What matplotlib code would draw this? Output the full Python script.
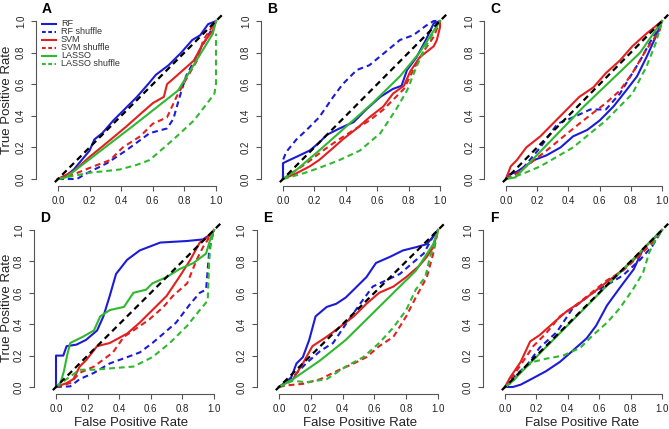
import matplotlib
matplotlib.use("Agg")
import matplotlib.pyplot as plt
from matplotlib.lines import Line2D

plt.rcParams['font.family'] = ['Liberation Sans', 'DejaVu Sans']

W, H = 669, 429

panel_letters = ["A", "B", "C", "D", "E", "F"]
ticks = [0.0, 0.2, 0.4, 0.6, 0.8, 1.0]
tick_labels = ["0.0", "0.2", "0.4", "0.6", "0.8", "1.0"]
series_names = ["RF", "RF shuffle", "SVM", "SVM shuffle", "LASSO", "LASSO shuffle"]

# ---- Panel A ----
A_rf_x = [0, .05, .10, .15, .20, .23, .28, .35, .42, .50, .57, .62, .70, .78, .85, .90, .95, 1.0]
A_rf_y = [0, .02, .06, .12, .18, .25, .29, .37, .44, .52, .60, .66, .72, .80, .88, .91, .98, 1.0]
A_rfs_x = [0, .12, .17, .31, .43, .58, .69, .73, .77, .81, .90, .98, 1.0]
A_rfs_y = [0, 0, .03, .10, .18, .29, .32, .38, .52, .65, .82, .96, 1.0]
A_svm_x = [0, .10, .20, .31, .43, .52, .60, .67, .69, .77, .86, .92, .98, 1.0]
A_svm_y = [0, .05, .14, .23, .33, .41, .48, .52, .60, .67, .75, .86, .94, 1.0]
A_svms_x = [0, .10, .20, .33, .41, .52, .60, .69, .75, .81, .88, .92, 1.0]
A_svms_y = [0, .03, .07, .12, .20, .27, .35, .39, .52, .63, .75, .88, 1.0]
A_las_x = [0, .05, .48, .76, .98, 1.0]
A_las_y = [0, .01, .34, .56, .92, 1.0]
A_lass_x = [0, .10, .20, .30, .39, .50, .58, .73, .86, .96, .99, 1.0, 1.0]
A_lass_y = [0, .02, .04, .05, .06, .09, .12, .25, .37, .50, .54, .60, .92]

# ---- Panel B ----
B_rf_x = [0, 0, .02, .085, .17, .23, .28, .36, .45, .53, .62, .70, .755, .79, .85, .91, .96, 1.0]
B_rf_y = [0, .10, .11, .14, .18, .23, .28, .32, .36, .44, .52, .57, .59, .69, .77, .88, .985, 1.0]
B_rfs_x = [0, 0, .02, .085, .15, .23, .32, .38, .47, .55, .66, .745, .83, .91, .96, 1.0]
B_rfs_y = [0, .12, .17, .25, .31, .39, .52, .60, .69, .72, .81, .88, .91, .97, 1.0, 1.0]
B_svm_x = [0, .085, .17, .23, .30, .38, .47, .55, .64, .70, .77, .81, .87, .96, .98, 1.0, 1.0]
B_svm_y = [0, .036, .08, .12, .18, .25, .32, .39, .46, .54, .59, .68, .77, .84, .88, .96, 1.0]
B_svms_x = [0, .15, .255, .34, .45, .55, .64, .70, .77, .83, .89, .96, 1.0]
B_svms_y = [0, .10, .18, .24, .31, .37, .44, .50, .57, .69, .80, .90, 1.0]
B_las_x = [0, .085, .23, .40, .57, .745, .87, 1.0]
B_las_y = [0, .057, .18, .33, .48, .65, .80, 1.0]
B_lass_x = [0, .13, .23, .36, .49, .62, .72, .79, .85, .91, 1.0]
B_lass_y = [0, .036, .07, .12, .18, .29, .44, .56, .71, .84, 1.0]

# ---- Panel C ----
C_rf_x = [0, .01, .07, .18, .26, .35, .43, .52, .60, .69, .77, .84, .90, .96, 1.0]
C_rf_y = [0, .025, .046, .12, .15, .20, .27, .31, .37, .46, .56, .65, .77, .90, 1.0]
C_rfs_x = [0, .11, .22, .33, .43, .54, .64, .73, .81, .86, .92, .985, 1.0]
C_rfs_y = [0, .07, .20, .35, .39, .44, .44, .54, .67, .75, .86, .96, 1.0]
C_svm_x = [0, .03, .07, .13, .22, .30, .39, .47, .56, .64, .73, .81, .90, 1.0]
C_svm_y = [0, .08, .12, .20, .27, .35, .44, .52, .58, .67, .75, .84, .92, 1.0]
C_svms_x = [0, .07, .155, .26, .37, .47, .56, .64, .73, .81, .90, .985, 1.0]
C_svms_y = [0, .036, .10, .18, .27, .35, .42, .48, .56, .67, .82, .94, 1.0]
C_las_x = [0, .06, .50, .86, 1.0]
C_las_y = [0, .01, .46, .80, 1.0]
C_lass_x = [0, .10, .22, .43, .64, .81, .90, .96, 1.0]
C_lass_y = [0, .03, .08, .20, .37, .54, .71, .86, 1.0]

# ---- Panel D ----
D_rf_x = [0, 0, .046, .067, .13, .19, .26, .30, .34, .38, .45, .53, .66, .83, .93, .99, 1.0]
D_rf_y = [0, .20, .20, .26, .27, .30, .36, .45, .58, .72, .81, .87, .92, .93, .94, .98, 1.0]
D_rfs_x = [0, .09, .15, .24, .34, .45, .53, .61, .68, .76, .85, .91, .95, .97, .99, 1.0]
D_rfs_y = [0, .004, .05, .09, .15, .19, .22, .28, .34, .41, .53, .60, .62, .87, .96, 1.0]
D_svm_x = [0, .067, .11, .15, .19, .26, .34, .45, .53, .61, .70, .78, .85, .91, .97, 1.0]
D_svm_y = [0, .025, .05, .13, .17, .26, .28, .34, .41, .49, .58, .70, .81, .92, .96, 1.0]
D_svms_x = [0, .09, .15, .24, .36, .43, .49, .59, .68, .74, .83, .89, .93, 1.0]
D_svms_y = [0, .025, .09, .13, .22, .32, .36, .43, .51, .58, .66, .81, .89, 1.0]
D_las_x = [0, .03, .05, .07, .09, .17, .24, .28, .34, .43, .49, .57, .61, .70, .78, .87, .95, .97, .99, 1.0]
D_las_y = [0, .03, .10, .20, .28, .32, .36, .45, .49, .51, .60, .62, .66, .70, .75, .79, .85, .92, .98, 1.0]
D_lass_x = [0, .067, .15, .24, .36, .49, .61, .72, .83, .91, .96, .97, .98, 1.0]
D_lass_y = [0, .05, .11, .11, .12, .13, .19, .28, .39, .49, .55, .81, .92, 1.0]

# ---- Panel E ----
E_rf_x = [0, .046, .078, .11, .15, .19, .23, .30, .36, .42, .49, .55, .61, .70, .78, .86, .93, .97, 1.0]
E_rf_y = [0, .03, .064, .15, .19, .30, .45, .51, .53, .57, .64, .70, .79, .83, .87, .89, .91, .96, 1.0]
E_rfs_x = [0, .088, .17, .26, .34, .42, .51, .59, .675, .76, .84, .91, .97, 1.0]
E_rfs_y = [0, .064, .15, .23, .28, .40, .53, .64, .68, .72, .79, .85, .96, 1.0]
E_svm_x = [0, .088, .15, .21, .30, .38, .47, .55, .63, .72, .80, .88, .93, .97, 1.0]
E_svm_y = [0, .05, .15, .26, .32, .38, .45, .53, .60, .64, .70, .77, .83, .89, 1.0]
E_svms_x = [0, .046, .15, .26, .36, .47, .55, .63, .72, .80, .86, .93, .97, 1.0]
E_svms_y = [0, .01, .02, .05, .10, .15, .19, .26, .32, .45, .57, .70, .85, 1.0]
E_las_x = [0, .088, .26, .42, .57, .72, .86, .97, 1.0]
E_las_y = [0, .05, .17, .30, .45, .60, .74, .91, 1.0]
E_lass_x = [0, .088, .17, .30, .42, .53, .63, .72, .80, .86, .92, .95, .98, 1.0]
E_lass_y = [0, .04, .03, .05, .13, .19, .28, .38, .49, .62, .70, .83, .91, 1.0]

# ---- Panel F ----
F_rf_x = [0, .05, .10, .18, .26, .35, .43, .52, .58, .65, .73, .82, .88, .94, 1.0]
F_rf_y = [0, 0, .015, .057, .10, .16, .23, .31, .39, .52, .63, .75, .88, .94, 1.0]
F_rfs_x = [0, .05, .14, .22, .33, .43, .56, .65, .75, .86, .94, 1.0]
F_rfs_y = [0, .057, .14, .25, .35, .50, .60, .65, .71, .81, .90, 1.0]
F_svm_x = [0, .03, .10, .16, .22, .31, .39, .48, .56, .65, .73, .82, .90, .985, 1.0]
F_svm_y = [0, .057, .16, .29, .33, .41, .48, .54, .60, .67, .73, .81, .90, .98, 1.0]
F_svms_x = [0, .10, .18, .26, .35, .45, .55, .65, .75, .85, .95, 1.0]
F_svms_y = [0, .14, .26, .34, .45, .52, .60, .68, .74, .83, .93, 1.0]
F_las_x = [0, .03, 1.0]
F_las_y = [0, .02, 1.0]
F_lass_x = [0, .05, .12, .18, .26, .37, .48, .56, .65, .73, .82, .88, .92, .96, 1.0]
F_lass_y = [0, .036, .12, .16, .18, .20, .25, .33, .41, .50, .63, .73, .86, .94, 1.0]

panels = [
    [(A_rf_x, A_rf_y), (A_rfs_x, A_rfs_y), (A_svm_x, A_svm_y), (A_svms_x, A_svms_y), (A_las_x, A_las_y), (A_lass_x, A_lass_y)],
    [(B_rf_x, B_rf_y), (B_rfs_x, B_rfs_y), (B_svm_x, B_svm_y), (B_svms_x, B_svms_y), (B_las_x, B_las_y), (B_lass_x, B_lass_y)],
    [(C_rf_x, C_rf_y), (C_rfs_x, C_rfs_y), (C_svm_x, C_svm_y), (C_svms_x, C_svms_y), (C_las_x, C_las_y), (C_lass_x, C_lass_y)],
    [(D_rf_x, D_rf_y), (D_rfs_x, D_rfs_y), (D_svm_x, D_svm_y), (D_svms_x, D_svms_y), (D_las_x, D_las_y), (D_lass_x, D_lass_y)],
    [(E_rf_x, E_rf_y), (E_rfs_x, E_rfs_y), (E_svm_x, E_svm_y), (E_svms_x, E_svms_y), (E_las_x, E_las_y), (E_lass_x, E_lass_y)],
    [(F_rf_x, F_rf_y), (F_rfs_x, F_rfs_y), (F_svm_x, F_svm_y), (F_svms_x, F_svms_y), (F_las_x, F_las_y), (F_lass_x, F_lass_y)],
]

BLUE, RED, GREEN = '#1c1cd6', '#e41f1f', '#30b830'
styles = [(BLUE, '-'), (BLUE, '--'), (RED, '-'), (RED, '--'), (GREEN, '-'), (GREEN, '--')]
DASH = (2.8, 1.9)
LW = 1.5

# pixel geometry per panel: (x of data 0, x of data 1, y of data 0, y of data 1)
geom = [(58, 216, 179, 21), (283, 440, 179, 21), (506, 662, 179, 21),
        (56, 214, 387, 230), (279, 438, 387, 230), (505, 662, 387, 230)]
XL, XR, YB, YT = -0.2, 1.08, -0.08, 1.08
AXIS_COL = '#555555'
TXT_COL = '#222222'

fig = plt.figure(figsize=(W / 100, H / 100), dpi=100)

for i, (curves, (x0, x1, y0, y1)) in enumerate(zip(panels, geom)):
    sx = x1 - x0
    sy = y0 - y1
    left = x0 + XL * sx
    right = x0 + XR * sx
    bottom = y0 - YB * sy
    top = y0 - YT * sy
    ax = fig.add_axes([left / W, 1 - bottom / H, (right - left) / W, (bottom - top) / H])
    ax.set_xlim(XL, XR)
    ax.set_ylim(YB, YT)
    ax.patch.set_alpha(0)
    for (cx, cy), (col, ls) in zip(curves, styles):
        if ls == '--':
            ax.plot(cx, cy, color=col, lw=LW, dashes=DASH, solid_capstyle='butt')
        else:
            ax.plot(cx, cy, color=col, lw=LW)
    ax.plot([-0.02, 1.04], [-0.02, 1.04], color='black', lw=1.6, dashes=(2.8, 1.9))

    for s in ['top', 'right']:
        ax.spines[s].set_visible(False)
    ax.spines['left'].set_position(('data', -0.141))
    ax.spines['left'].set_bounds(0, 1)
    ax.spines['bottom'].set_position(('data', -0.042))
    ax.spines['bottom'].set_bounds(0, 1)
    for s in ['left', 'bottom']:
        ax.spines[s].set_color(AXIS_COL)
        ax.spines[s].set_linewidth(0.8)
    ax.set_xticks(ticks)
    ax.set_xticklabels(tick_labels, fontsize=7, color=TXT_COL)
    ax.set_yticks(ticks)
    ax.set_yticklabels(tick_labels, fontsize=7, color=TXT_COL, rotation=90, va='center')
    ax.tick_params(axis='both', length=3.6, width=0.8, color=AXIS_COL)
    ax.tick_params(axis='x', pad=4.0)
    ax.tick_params(axis='y', pad=3.5)

    # panel letter
    fig.text((x0 - 11) / W, 1 - (y1 - 12) / H, panel_letters[i], fontsize=10,
             fontweight='bold', ha='center', va='center', color='black')

# axis labels
for yc in [100, 308]:
    fig.text(7.5 / W, 1 - yc / H, "True Positive Rate", rotation=90, fontsize=9.5,
             ha='center', va='center', color=TXT_COL)
for xc in [131, 360, 582]:
    fig.text(xc / W, 1 - 423 / H, "False Positive Rate", fontsize=9.5,
             ha='center', va='center', color=TXT_COL)

# legend in panel A
leg_y = [24, 32, 40, 48, 56, 64]
for name, (col, ls), yy in zip(series_names, styles, leg_y):
    ln = Line2D([42 / W, 56 / W], [1 - yy / H, 1 - yy / H], transform=fig.transFigure,
                color=col, lw=1.5)
    if ls == '--':
        ln.set_dashes((1.8, 1.2))
    fig.add_artist(ln)
    fig.text(61 / W, 1 - yy / H, name, fontsize=6.5, ha='left', va='center', color='#333333')

fig.savefig("out.png", dpi=100)
